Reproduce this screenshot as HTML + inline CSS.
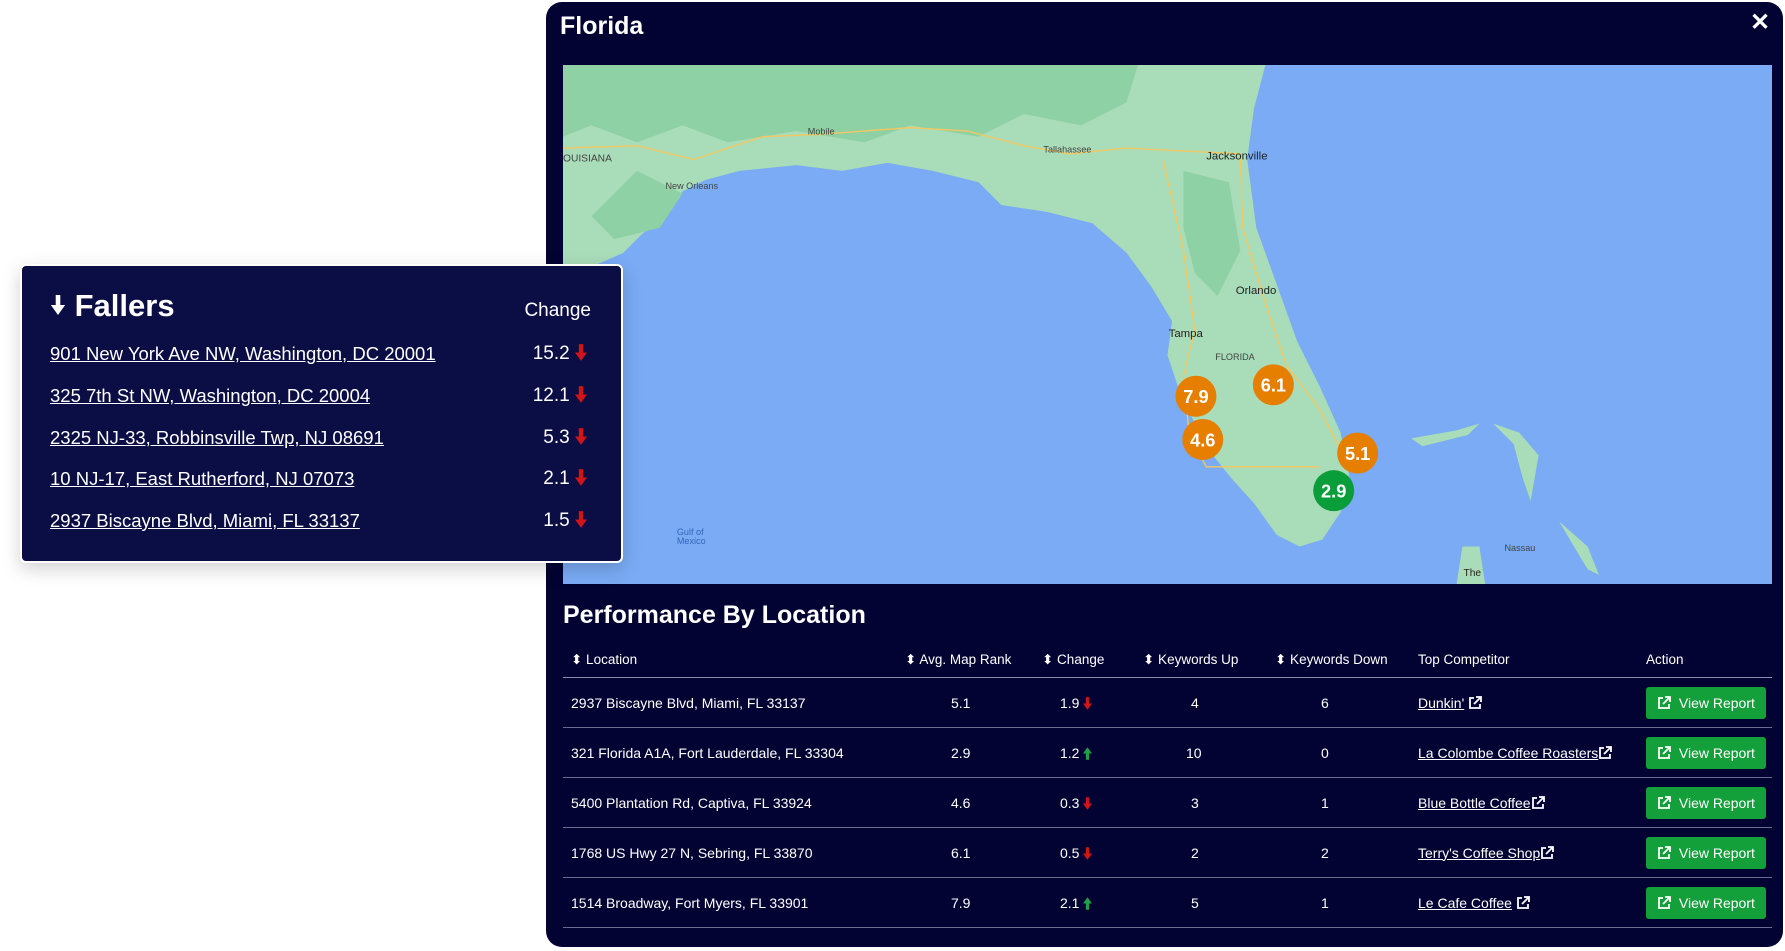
<!DOCTYPE html>
<html><head><meta charset="utf-8"><style>
*{margin:0;padding:0;box-sizing:border-box}
body{width:1785px;height:951px;background:#fff;position:relative;overflow:hidden;font-family:"Liberation Sans",sans-serif;color:#fff}
.abs{position:absolute}
#panel{left:546px;top:2px;width:1237px;height:945px;background:#020333;border-radius:16px}
#map{left:563px;top:65px;width:1209px;height:519px}
.hd{font-size:13.5px;top:652px;white-space:nowrap}
.row{position:absolute;left:563px;width:1209px;height:50px;border-bottom:1px solid #6a6d90;font-size:14px}
.row span{position:absolute;top:50%;transform:translateY(-50%);white-space:nowrap}
.btn{position:absolute;left:1083px;width:120px;height:32px;top:50%;transform:translateY(-50%);background:#13a03a;border-radius:3px;font-size:14px;display:flex;align-items:center;justify-content:center}
u{text-decoration:underline}
#card{left:20px;top:264px;width:603px;height:299px;background:#0b0d45;border:2px solid #fff;border-radius:6px;box-shadow:0 6px 18px rgba(0,0,0,.18)}
.fr{position:absolute;left:28px;font-size:18.5px;text-decoration:underline;white-space:nowrap}
.fv{position:absolute;right:34px;font-size:19px;white-space:nowrap}
svg.a{display:inline-block;vertical-align:-2px}
</style></head><body>
<svg width="0" height="0" style="position:absolute"><defs>
<symbol id="dn" viewBox="0 0 10 14"><path d="M3.2,0 H6.8 V7 H10 L5,14 L0,7 H3.2 Z" fill="#d0141a"/></symbol>
<symbol id="up" viewBox="0 0 10 14"><path d="M3.2,14 H6.8 V7 H10 L5,0 L0,7 H3.2 Z" fill="#1ea04a"/></symbol>
<symbol id="ext" viewBox="0 0 14 14"><path d="M6,2 H2 V12 H12 V8" fill="none" stroke="#fff" stroke-width="1.8"/><path d="M8,1 H13 V6 M13,1 L6,8" fill="none" stroke="#fff" stroke-width="1.8"/></symbol>
</defs></svg>
<div id="panel" class="abs"></div>
<div class="abs" style="left:560px;top:12px;font-size:25px;font-weight:bold">Florida</div>
<div class="abs" style="left:1750px;top:8px;font-size:24px;font-weight:bold">✕</div>
<svg id="map" class="abs" viewBox="495 57 1062 456" preserveAspectRatio="none">
<rect x="495" y="57" width="1062" height="456" fill="#7aabf4"/>
<path fill="#a9dcb8" d="M495,57 L1112,57 L1102,95 L1096,140 L1104,200 L1122,250 L1140,300 L1160,340 L1178,380 L1186,420 L1178,450 L1162,474 L1142,480 L1122,470 L1102,442 L1082,420 L1066,400 L1050,372 L1036,342 L1026,312 L1030,282 L1012,252 L990,222 L960,196 L920,186 L880,180 L860,160 L820,150 L780,143 L740,150 L700,145 L650,150 L620,158 L600,168 L585,190 L565,205 L548,222 L530,230 L510,238 L495,242 Z"/>
<path fill="#8ed1a4" d="M495,57 L1000,57 L990,90 L950,110 L900,100 L860,120 L800,110 L760,125 L700,115 L640,125 L600,110 L560,125 L520,110 L495,120 Z M1040,150 L1080,160 L1090,220 L1070,260 L1050,240 L1040,200 Z M560,150 L600,170 L580,200 L540,210 L520,190 Z"/>
<path fill="none" stroke="#f4c860" stroke-width="1.2" d="M495,130 L560,128 L610,140 L670,120 L720,118 L800,112 L850,115 L900,128 L940,135 L990,130 L1090,135 M1090,135 L1092,200 L1110,260 L1130,320 L1160,360 L1178,395 M1022,140 L1040,220 L1050,290 L1040,330 L1045,380 L1060,410 L1160,410"/>
<path fill="#a9dcb8" d="M1240,385 L1280,378 L1300,372 L1290,382 L1250,392 Z M1312,372 L1335,380 L1352,400 L1345,440 L1338,420 L1330,390 Z M1285,480 L1300,480 L1305,513 L1280,513 Z M1370,458 L1395,480 L1405,505 L1395,500 L1380,475 Z"/>
<g font-family="Liberation Sans" font-size="8" fill="#444">
<text x="1060" y="140" font-size="10" fill="#222">Jacksonville</text><text x="1086" y="258" font-size="10" fill="#222">Orlando</text><text x="1027" y="296" font-size="10" fill="#222">Tampa</text><text x="1068" y="316">FLORIDA</text><text x="710" y="118">Mobile</text><text x="585" y="166">New Orleans</text><text x="917" y="134">Tallahassee</text><text x="495" y="142" font-size="9">OUISIANA</text><text x="595" y="470" fill="#3366bb">Gulf of</text><text x="595" y="478" fill="#3366bb">Mexico</text><text x="1286" y="506" font-size="9" fill="#222">The</text><text x="1322" y="484">Nassau</text>
</g>
<g font-family="Liberation Sans" font-weight="bold" font-size="16" fill="#fff" text-anchor="middle">
<circle cx="1051" cy="348" r="18" fill="#e67e00"/><text x="1051" y="354">7.9</text>
<circle cx="1119" cy="338" r="18" fill="#e67e00"/><text x="1119" y="344">6.1</text>
<circle cx="1057" cy="386" r="18" fill="#e67e00"/><text x="1057" y="392">4.6</text>
<circle cx="1193" cy="398" r="18" fill="#e67e00"/><text x="1193" y="404">5.1</text>
<circle cx="1172" cy="431" r="18" fill="#0a9e3a"/><text x="1172" y="437">2.9</text>
</g>
</svg>
<div class="abs" style="left:563px;top:601px;font-size:25px;font-weight:bold">Performance By Location</div>
<div class="abs hd" style="left:571px">⬍ Location</div>
<div class="abs hd" style="left:905px">⬍ Avg. Map Rank</div>
<div class="abs hd" style="left:1042px">⬍ Change</div>
<div class="abs hd" style="left:1143px">⬍ Keywords Up</div>
<div class="abs hd" style="left:1275px">⬍ Keywords Down</div>
<div class="abs hd" style="left:1418px">Top Competitor</div>
<div class="abs hd" style="left:1646px">Action</div>
<div class="abs" style="left:563px;top:677px;width:1209px;height:1px;background:#8a8db0"></div>
<div class="row" style="top:678px"><span style="left:8px">2937 Biscayne Blvd, Miami, FL 33137</span><span style="left:388px">5.1</span><span style="left:497px">1.9 <svg class="a" width="9" height="13"><use href="#dn"/></svg></span><span style="left:628px">4</span><span style="left:758px">6</span><span style="left:855px"><u>Dunkin'</u> <svg class="a" width="14" height="14"><use href="#ext"/></svg></span><div class="btn"><svg class="a" width="14" height="14"><use href="#ext"/></svg>&nbsp; View Report</div></div>
<div class="row" style="top:728px"><span style="left:8px">321 Florida A1A, Fort Lauderdale, FL 33304</span><span style="left:388px">2.9</span><span style="left:497px">1.2 <svg class="a" width="9" height="13"><use href="#up"/></svg></span><span style="left:623px">10</span><span style="left:758px">0</span><span style="left:855px"><u>La Colombe Coffee Roasters</u><svg class="a" width="14" height="14"><use href="#ext"/></svg></span><div class="btn"><svg class="a" width="14" height="14"><use href="#ext"/></svg>&nbsp; View Report</div></div>
<div class="row" style="top:778px"><span style="left:8px">5400 Plantation Rd, Captiva, FL 33924</span><span style="left:388px">4.6</span><span style="left:497px">0.3 <svg class="a" width="9" height="13"><use href="#dn"/></svg></span><span style="left:628px">3</span><span style="left:758px">1</span><span style="left:855px"><u>Blue Bottle Coffee</u><svg class="a" width="14" height="14"><use href="#ext"/></svg></span><div class="btn"><svg class="a" width="14" height="14"><use href="#ext"/></svg>&nbsp; View Report</div></div>
<div class="row" style="top:828px"><span style="left:8px">1768 US Hwy 27 N, Sebring, FL 33870</span><span style="left:388px">6.1</span><span style="left:497px">0.5 <svg class="a" width="9" height="13"><use href="#dn"/></svg></span><span style="left:628px">2</span><span style="left:758px">2</span><span style="left:855px"><u>Terry's Coffee Shop</u><svg class="a" width="14" height="14"><use href="#ext"/></svg></span><div class="btn"><svg class="a" width="14" height="14"><use href="#ext"/></svg>&nbsp; View Report</div></div>
<div class="row" style="top:878px"><span style="left:8px">1514 Broadway, Fort Myers, FL 33901</span><span style="left:388px">7.9</span><span style="left:497px">2.1 <svg class="a" width="9" height="13"><use href="#up"/></svg></span><span style="left:628px">5</span><span style="left:758px">1</span><span style="left:855px"><u>Le Cafe Coffee</u> <svg class="a" width="14" height="14"><use href="#ext"/></svg></span><div class="btn"><svg class="a" width="14" height="14"><use href="#ext"/></svg>&nbsp; View Report</div></div>
<div id="card" class="abs">
<div class="abs" style="left:28px;top:22px;font-size:31px;font-weight:bold"><svg width="16" height="20" viewBox="0 0 10 14" style="vertical-align:1px"><path d="M3.4,0 H6.6 V7 H10 L5,14 L0,7 H3.4 Z" fill="#fff"/></svg> Fallers</div>
<div class="abs" style="right:30px;top:34px;font-size:19px">Change</div>
<div class="fr" style="top:77px">901 New York Ave NW, Washington, DC 20001</div><div class="fv" style="top:77px">15.2 <svg class="a" width="12" height="17"><use href="#dn"/></svg></div>
<div class="fr" style="top:119px">325 7th St NW, Washington, DC 20004</div><div class="fv" style="top:119px">12.1 <svg class="a" width="12" height="17"><use href="#dn"/></svg></div>
<div class="fr" style="top:161px">2325 NJ-33, Robbinsville Twp, NJ 08691</div><div class="fv" style="top:161px">5.3 <svg class="a" width="12" height="17"><use href="#dn"/></svg></div>
<div class="fr" style="top:202px">10 NJ-17, East Rutherford, NJ 07073</div><div class="fv" style="top:202px">2.1 <svg class="a" width="12" height="17"><use href="#dn"/></svg></div>
<div class="fr" style="top:244px">2937 Biscayne Blvd, Miami, FL 33137</div><div class="fv" style="top:244px">1.5 <svg class="a" width="12" height="17"><use href="#dn"/></svg></div>
</div>
</body></html>
